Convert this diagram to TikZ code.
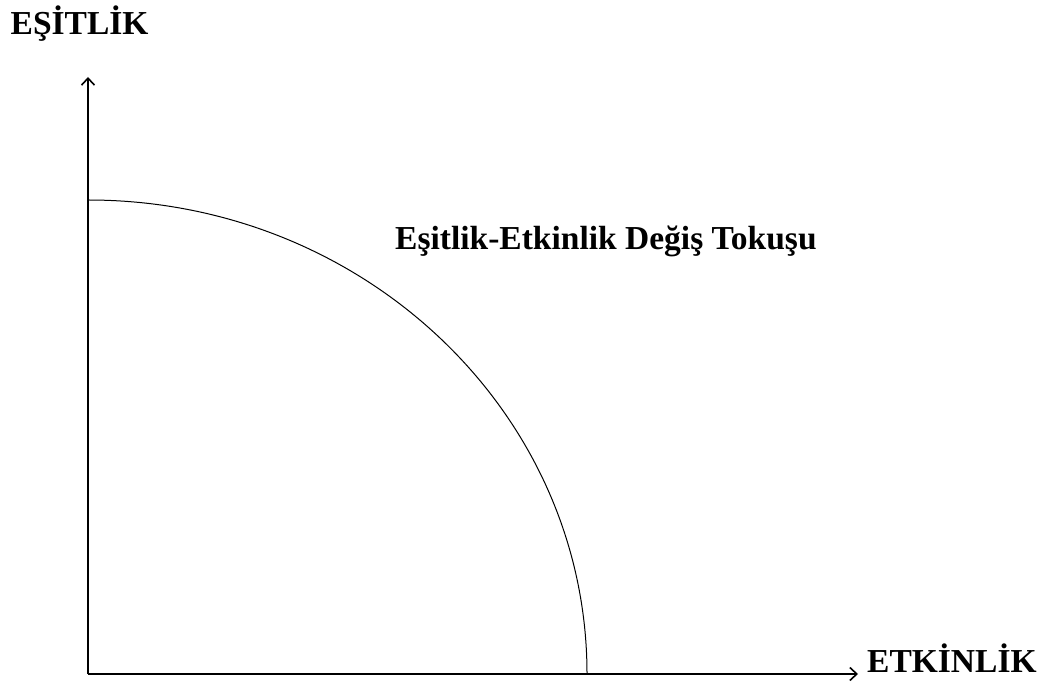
\documentclass[tikz,border=0pt]{standalone}
\usepackage{fontspec}
\setmainfont{Liberation Serif}
\usetikzlibrary{arrows.meta}
\tikzset{
  axis/.style={line width=2pt, -{Straight Barb[length=7pt,width=13pt,line width=1.6pt]}},
  curve/.style={line width=1pt},
  lbl/.style={inner sep=0pt, font=\fontsize{33.5pt}{36pt}\selectfont\bfseries, anchor=base west}
}
\begin{document}
\begin{tikzpicture}[x=1pt,y=1pt]
\useasboundingbox (0,0) rectangle (1046,683);
\coordinate (O) at (88,9);
\coordinate (ytip) at (88,606);
\coordinate (xtip) at (858,9);
\coordinate (ctop) at (88,483);
\draw[axis] (O) -- (ytip);
\draw[axis] (O) -- (xtip);
\draw[curve] (ctop) arc[start angle=90, end angle=0, x radius=499, y radius=474];
\node[lbl] (ylab) at (10.5,648) {EŞİTLİK};
\node[lbl] (xlab) at (867,11) {ETKİNLİK};
\node[lbl] (title) at (395,433) {Eşitlik-Etkinlik Değiş Tokuşu};
\end{tikzpicture}
\end{document}
